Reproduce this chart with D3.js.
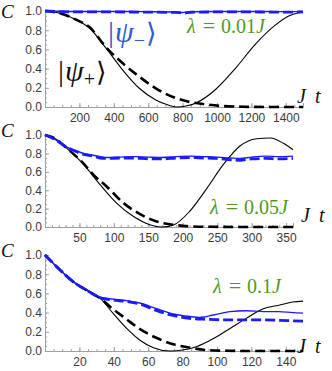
<!DOCTYPE html>
<html lang="en">
<head>
<meta charset="UTF-8">
<title>C vs J t</title>
<script src="https://d3js.org/d3.v7.min.js"></script>
<style>
  body { margin: 0; background: #fff; }
  .tick-label { font-family: "Liberation Sans", Arial, sans-serif; font-size: 12px; fill: #3a3a3a; }
  .math { font-family: "Liberation Serif", "DejaVu Serif", serif; font-style: italic; }
</style>
</head>
<body>
<svg id="chart" width="332" height="371"></svg>
<script>
// ---- panel 1 : lambda = 0.01 J ----
const t1Black = [0, 90, 180, 260, 356, 452, 548, 644, 720, 767, 820, 875, 990, 1106, 1221, 1337, 1420, 1500];
const c1Black = [1.0, 0.975, 0.91, 0.82, 0.61, 0.385, 0.195, 0.073, 0.018, 0, 0.01, 0.04, 0.18, 0.40, 0.65, 0.85, 0.95, 0.99];
const t1BlackDash = [0, 90, 180, 260, 356, 452, 548, 644, 740, 836, 932, 1028, 1150, 1300, 1500];
const c1BlackDash = [1.0, 0.975, 0.91, 0.83, 0.62, 0.455, 0.316, 0.195, 0.107, 0.055, 0.028, 0.01, 0.003, 0, 0];
const t1Blue = [0, 200, 400, 600, 760, 800, 850, 1000, 1200, 1400, 1500];
const c1Blue = [1.0, 0.995, 0.995, 0.993, 0.99, 0.985, 0.992, 0.995, 0.995, 0.993, 0.995];
const c1BlueDash = [1.0, 0.99, 0.99, 0.988, 0.985, 0.98, 0.987, 0.99, 0.99, 0.988, 0.99];

// ---- panel 2 : lambda = 0.05 J ----
const t2Black = [0, 15, 31, 56, 80, 104, 128, 152, 169, 186, 210, 235, 259, 283, 307, 327, 346, 360];
const c2Black = [1.0, 0.96, 0.86, 0.68, 0.46, 0.26, 0.116, 0.025, 0, 0.02, 0.17, 0.42, 0.68, 0.88, 0.96, 0.967, 0.91, 0.84];
const t2BlackDash = [0, 15, 31, 56, 70, 89.5, 114, 138, 162, 186, 210, 240, 300, 360];
const c2BlackDash = [1.0, 0.96, 0.86, 0.69, 0.57, 0.44, 0.26, 0.14, 0.06, 0.025, 0.008, 0.002, 0, 0];
const t2Blue = [0, 15, 31, 45, 56, 70, 80, 90, 110, 130, 150, 170, 190, 210, 230, 250, 270, 283, 300, 320, 340, 360];
const c2Blue = [1.0, 0.95, 0.87, 0.83, 0.80, 0.78, 0.765, 0.755, 0.76, 0.765, 0.76, 0.755, 0.765, 0.77, 0.765, 0.76, 0.75, 0.745, 0.76, 0.77, 0.765, 0.77];
const c2BlueDash = [1.0, 0.95, 0.87, 0.82, 0.79, 0.77, 0.75, 0.745, 0.75, 0.75, 0.74, 0.74, 0.75, 0.755, 0.75, 0.745, 0.73, 0.725, 0.74, 0.745, 0.74, 0.745];

// ---- panel 3 : lambda = 0.1 J ----
const t3Black = [0, 8.7, 16.5, 24, 32, 39.7, 47.5, 55, 63, 72.7, 80, 88, 98, 107.6, 117, 127, 136.6, 144, 150];
const c3Black = [1.0, 0.845, 0.72, 0.64, 0.55, 0.39, 0.235, 0.115, 0.035, 0, 0.01, 0.045, 0.13, 0.235, 0.34, 0.44, 0.48, 0.51, 0.52];
const t3BlackDash = [0, 8.7, 16.5, 24, 32, 40, 47.5, 55, 65, 74.6, 84, 94, 105, 120, 150];
const c3BlackDash = [1.0, 0.845, 0.72, 0.635, 0.55, 0.43, 0.33, 0.23, 0.135, 0.07, 0.035, 0.01, 0.003, 0, 0];
const t3Blue = [0, 8.7, 16.5, 24, 32, 39.7, 47.5, 55, 65, 74.6, 84, 90, 98, 107.6, 117, 127, 136, 144, 150];
const c3Blue = [1.0, 0.845, 0.72, 0.64, 0.56, 0.54, 0.525, 0.50, 0.44, 0.385, 0.36, 0.35, 0.375, 0.41, 0.42, 0.41, 0.41, 0.40, 0.395];
const t3BlueDash = [0, 8.7, 16.5, 24, 32, 39.7, 47.5, 55, 65, 74.6, 84, 94, 105, 120, 135, 150];
const c3BlueDash = [1.0, 0.845, 0.72, 0.635, 0.555, 0.53, 0.515, 0.49, 0.42, 0.37, 0.34, 0.33, 0.325, 0.325, 0.32, 0.31];

const yTicks = [0, 0.2, 0.4, 0.6, 0.8, 1.0];
const lambdaLabels = ["0.01", "0.05", "0.1"];

const zip = (t, c) => t.map((d, i) => [d, c[i]]);

const panels = [
  { top: 11, bottom: 107, xmax: 1500, right: 303, major: 200, minor: 50,
    lines: { black: zip(t1Black, c1Black), blackDash: zip(t1BlackDash, c1BlackDash),
             blue: zip(t1Blue, c1Blue), blueDash: zip(t1Blue, c1BlueDash) },
    lam: [187, 33], jt: [297, 103], cy: 18 },
  { top: 135, bottom: 227, xmax: 360, right: 293, major: 50, minor: 10,
    lines: { black: zip(t2Black, c2Black), blackDash: zip(t2BlackDash, c2BlackDash),
             blue: zip(t2Blue, c2Blue), blueDash: zip(t2Blue, c2BlueDash) },
    lam: [210, 214], jt: [301, 222], cy: 137 },
  { top: 255, bottom: 351, xmax: 150, right: 303, major: 20, minor: 5,
    lines: { black: zip(t3Black, c3Black), blackDash: zip(t3BlackDash, c3BlackDash),
             blue: zip(t3Blue, c3Blue), blueDash: zip(t3BlueDash, c3BlueDash) },
    lam: [213, 293], jt: [297, 353], cy: 257 }
];

const svg = d3.select("#chart");
const left = 45;

panels.forEach((p, k) => {
  const x = d3.scaleLinear().domain([0, p.xmax]).range([left, p.right]);
  const y = d3.scaleLinear().domain([0, 1]).range([p.bottom, p.top]);
  const g = svg.append("g");

  // axes (Mathematica style, ticks pointing inward)
  const yAxis = g.append("g").attr("transform", `translate(${left},0)`)
    .call(d3.axisLeft(y).tickValues(yTicks).tickFormat(d3.format(".1f")).tickSize(-4).tickPadding(3));
  const yMinor = g.append("g").attr("transform", `translate(${left},0)`)
    .call(d3.axisLeft(y).tickValues(d3.range(0, 1.001, 0.05)).tickFormat("").tickSize(-2));
  const xMajorVals = d3.range(p.major, p.xmax + 0.1, p.major);
  const xAxis = g.append("g").attr("transform", `translate(0,${p.bottom})`)
    .call(d3.axisBottom(x).tickValues(xMajorVals).tickFormat(d3.format("d")).tickSize(-4).tickPadding(6));
  const xMinor = g.append("g").attr("transform", `translate(0,${p.bottom})`)
    .call(d3.axisBottom(x).tickValues(d3.range(0, p.xmax + 0.1, p.minor)).tickFormat("").tickSize(-2));
  [yAxis, yMinor, xAxis, xMinor].forEach(a => {
    a.select(".domain").attr("stroke", "#a0a0a0").attr("stroke-width", 1);
    a.selectAll(".tick line").attr("stroke", "#a0a0a0");
    a.selectAll(".tick text").attr("class", "tick-label").attr("font-family", null).attr("font-size", null).attr("fill", null);
  });
  xAxis.selectAll(".tick text").attr("dy", "0.75em");

  const line = d3.line().x(d => x(d[0])).y(d => y(d[1])).curve(d3.curveMonotoneX);

  g.append("path").attr("d", line(p.lines.black)).attr("fill", "none")
    .attr("stroke", "#000").attr("stroke-width", 1.1);
  g.append("path").attr("d", line(p.lines.blackDash)).attr("fill", "none")
    .attr("stroke", "#000").attr("stroke-width", 2.6).attr("stroke-dasharray", "10,5");
  g.append("path").attr("d", line(p.lines.blue)).attr("fill", "none")
    .attr("stroke", "#1a1aff").attr("stroke-width", 1.4);
  g.append("path").attr("d", line(p.lines.blueDash)).attr("fill", "none")
    .attr("stroke", "#1a1aff").attr("stroke-width", 2.8).attr("stroke-dasharray", "10,4");

  // labels
  svg.append("text").attr("class", "math").attr("x", 1).attr("y", p.cy)
    .attr("font-size", 19).attr("fill", "#111").text("C");
  const jt = svg.append("text").attr("class", "math").attr("x", p.jt[0]).attr("y", p.jt[1])
    .attr("font-size", 20).attr("fill", "#111");
  jt.append("tspan").text("J");
  jt.append("tspan").attr("dx", 9).text("t");

  const lam = svg.append("text").attr("x", p.lam[0]).attr("y", p.lam[1])
    .attr("font-family", "'Liberation Serif', 'DejaVu Serif', serif")
    .attr("font-size", 20).attr("fill", "#4f9a22");
  lam.append("tspan").attr("font-style", "italic").text("λ");
  lam.append("tspan").attr("dx", 7).attr("font-size", 22).text("=");
  lam.append("tspan").attr("dx", 6).text(lambdaLabels[k]);
  lam.append("tspan").attr("font-style", "italic").text("J");
});

// state labels in the top panel
function ket(xPos, yPos, sub, colour) {
  const t = svg.append("text").attr("x", xPos).attr("y", yPos)
    .attr("font-family", "'Liberation Serif', 'DejaVu Serif', serif").attr("font-size", 30).attr("fill", colour);
  t.append("tspan").text("|");
  t.append("tspan").attr("dx", 1).attr("font-style", "italic").text("ψ");
  t.append("tspan").attr("font-size", 20).attr("dy", 5).text(sub);
  t.append("tspan").attr("dy", -5).attr("dx", 1).attr("font-family", "'DejaVu Serif', serif").attr("font-size", 27).text("⟩");
}
ket(108, 42, "−", "#2a5bd7");
ket(58, 81, "+", "#111");
</script>
</body>
</html>
